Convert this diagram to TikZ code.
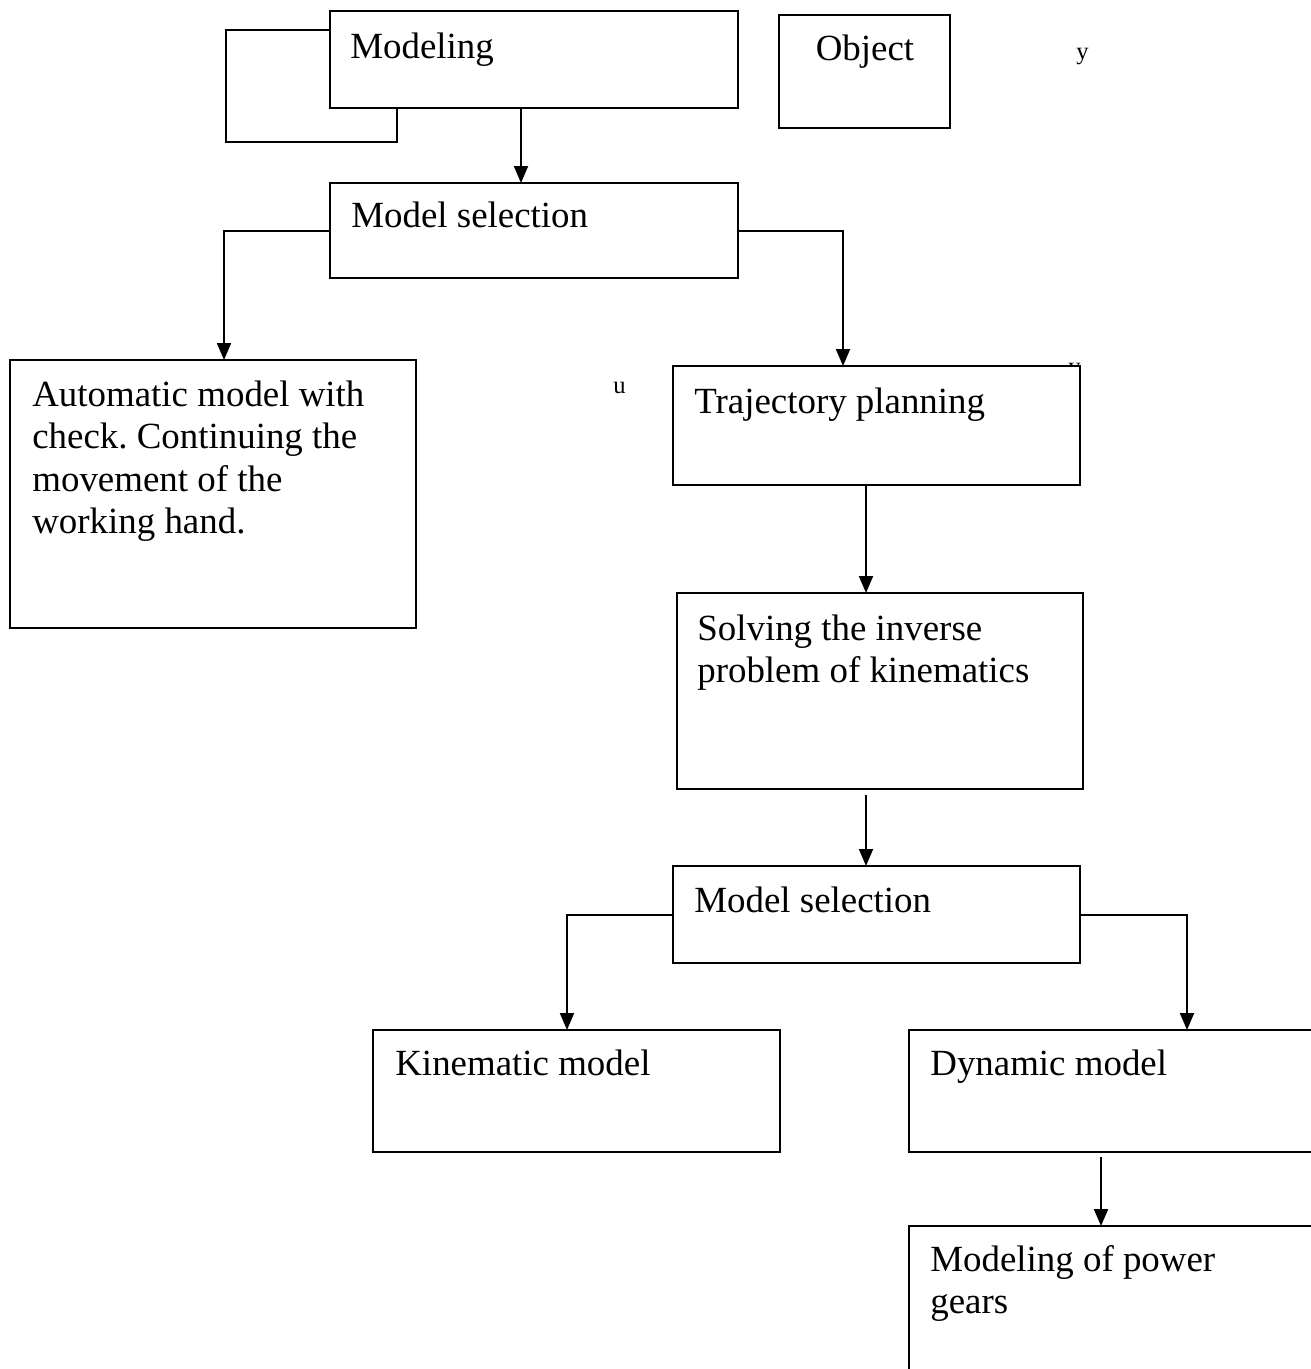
\documentclass[tikz,border=0pt]{standalone}
\usepackage{fontspec}
\setmainfont{Liberation Serif}
\usetikzlibrary{arrows.meta}
\frenchspacing
\newcommand\mybox[5]{\node[box,minimum width={(#4-#2)*0.02cm},minimum height={(#5-#3)*0.02cm}] (#1) at (#2,#3) {};}
\newcommand\mylines[2]{\parbox[t]{#1}{\raggedright #2}}
\begin{document}
\begin{tikzpicture}[x=0.02cm,y=-0.02cm,
 box/.style={draw,line width=1.1pt,fill=white,inner sep=0pt,outer sep=0pt,anchor=north west},
 txt/.style={anchor=base west,inner sep=0pt,font=\fontsize{21pt}{24.2pt}\selectfont},
 lbl/.style={anchor=base west,inner sep=0pt,font=\fontsize{14pt}{16pt}\selectfont},
 ln/.style={line width=1.1pt},
 arr/.style={ln,-{Triangle[length=0.34cm,width=0.28cm]}}]
\useasboundingbox (0,0) rectangle (1311,1369);
\clip (0,0) rectangle (1311,1369);
% small labels
\node[lbl] (ly) at (1076,59) {y};
\node[lbl] (lu) at (613,393) {u};
\node[lbl] (ly2) at (1068,374) {y};
% boxes
\mybox{mod}{330}{11}{738}{108}
\mybox{obj}{779}{15}{950}{128}
\mybox{sel1}{330}{183}{738}{278}
\mybox{auto}{10}{360}{416}{628}
\mybox{traj}{673}{366}{1080}{485}
\mybox{solve}{677}{593}{1083}{789}
\mybox{sel2}{673}{866}{1080}{963}
\mybox{kin}{373}{1030}{780}{1152}
\mybox{dyn}{909}{1030}{1330}{1152}
\mybox{pow}{909}{1226}{1330}{1400}
% texts
\node[txt] (tmod) at (350,58) {Modeling};
\node[txt,anchor=base] (tobj) at (865,60) {Object};
\node[txt] (tsel1) at (351,227) {Model selection};
\node[txt] (tauto) at (32,406) {\mylines{9cm}{Automatic model with\\check. Continuing the\\movement of the\\working hand.}};
\node[txt] (ttraj) at (694,413) {Trajectory planning};
\node[txt] (tsolve) at (697,640) {\mylines{9cm}{Solving the inverse\\problem of kinematics}};
\node[txt] (tsel2) at (694,912) {Model selection};
\node[txt] (tkin) at (395,1075) {Kinematic model};
\node[txt] (tdyn) at (930,1075) {Dynamic model};
\node[txt] (tpow) at (930,1271) {\mylines{9cm}{Modeling of power\\gears}};
% connectors
\coordinate (lpA) at (226,30);
\coordinate (lpB) at (397,142);
\draw[ln] (lpA -| mod.west) -- (lpA) |- (lpB) -- (lpB |- mod.south);
\coordinate (c1) at (521,0);
\draw[arr] (c1 |- mod.south) -- (c1 |- sel1.north);
\coordinate (c2) at (224,231);
\draw[arr] (c2 -| sel1.west) -| (c2 |- auto.north);
\coordinate (c3) at (843,231);
\draw[arr] (c3 -| sel1.east) -| (c3 |- traj.north);
\coordinate (c4) at (866,0);
\draw[arr] (c4 |- traj.south) -- (c4 |- solve.north);
\coordinate (c5) at (866,795);
\draw[arr] (c5) -- (c5 |- sel2.north);
\coordinate (c6) at (567,915);
\draw[arr] (c6 -| sel2.west) -| (c6 |- kin.north);
\coordinate (c7) at (1187,915);
\draw[arr] (c7 -| sel2.east) -| (c7 |- dyn.north);
\coordinate (c8) at (1101,1157);
\draw[arr] (c8) -- (c8 |- pow.north);
\end{tikzpicture}
\end{document}
